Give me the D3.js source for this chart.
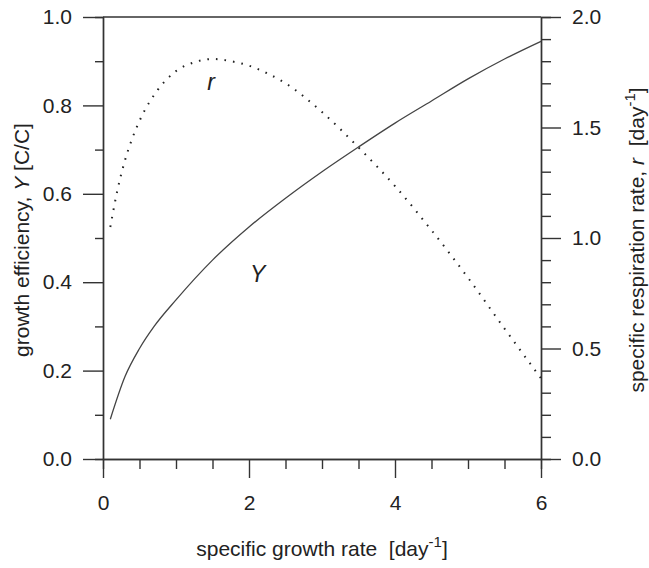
<!DOCTYPE html>
<html>
<head>
<meta charset="utf-8">
<script src="https://cdn.jsdelivr.net/npm/d3@7"></script>
<style>
  body { margin: 0; background: #fff; }
  text { font-family: "Liberation Sans", Arial, sans-serif; fill: #222; }
</style>
</head>
<body>
<svg id="chart"></svg>
<script>
// growth rate (day^-1) and the two curves
var mu_Y = [0.1, 0.3, 0.5, 0.7, 1.0, 1.5, 2.0, 2.5, 3.0, 3.5, 4.0, 4.5, 5.0, 5.5, 6.0];
var Y_vals = [0.09, 0.186, 0.25, 0.30, 0.36, 0.45, 0.525, 0.59, 0.65, 0.706, 0.76, 0.81, 0.86, 0.905, 0.945];

var mu_r = [0.1, 0.2, 0.3, 0.4, 0.5, 0.75, 1.0, 1.25, 1.5, 1.75, 2.0, 2.25, 2.5, 3.0, 3.5, 4.0, 4.5, 5.0, 5.5, 6.0];
var r_vals = [1.05, 1.22, 1.35, 1.45, 1.53, 1.67, 1.755, 1.795, 1.81, 1.80, 1.78, 1.745, 1.70, 1.57, 1.41, 1.235, 1.035, 0.82, 0.59, 0.365];

var x_ticks = [0, 2, 4, 6];
var x_minor = [0.5, 1, 1.5, 2.5, 3, 3.5, 4.5, 5, 5.5];
var y_ticks = [0, 0.2, 0.4, 0.6, 0.8, 1.0];
var y_minor = [0.1, 0.3, 0.5, 0.7, 0.9];
var r_ticks = [0, 0.5, 1.0, 1.5, 2.0];
var r_minor = [0.1, 0.2, 0.3, 0.4, 0.6, 0.7, 0.8, 0.9, 1.1, 1.2, 1.3, 1.4, 1.6, 1.7, 1.8, 1.9];

var svg_width = 649, svg_height = 568;
var margin = { top: 17, right: 108, bottom: 109, left: 103 };
var width = svg_width - margin.left - margin.right;
var height = svg_height - margin.top - margin.bottom;

var svg = d3.select("#chart")
	.attr("width", svg_width)
	.attr("height", svg_height);

var g = svg.append("g")
	.attr("transform", "translate(" + margin.left + "," + margin.top + ")");

var x = d3.scaleLinear().domain([0, 6]).range([0, width]);
var y = d3.scaleLinear().domain([0, 1]).range([height, 0]);
var yr = d3.scaleLinear().domain([0, 2]).range([height, 0]);

var fmt1 = d3.format(".1f");

function styleAxis(sel) {
	sel.selectAll("path, line").attr("stroke", "#333").attr("stroke-width", 1.4);
	sel.selectAll("text").attr("font-size", 21).attr("fill", "#222");
}

// minor ticks first (no labels)
g.append("g").call(d3.axisLeft(y).tickValues(y_minor).tickSize(8).tickFormat(""))
	.call(styleAxis);
g.append("g").attr("transform", "translate(" + width + ",0)")
	.call(d3.axisRight(yr).tickValues(r_minor).tickSize(10).tickFormat(""))
	.call(styleAxis);
g.append("g").attr("transform", "translate(0," + height + ")")
	.call(d3.axisBottom(x).tickValues(x_minor).tickSize(10).tickFormat(""))
	.call(styleAxis);

// major axes
g.append("g")
	.call(d3.axisLeft(y).tickValues(y_ticks).tickSize(20).tickSizeOuter(0).tickPadding(11).tickFormat(fmt1))
	.call(styleAxis);

g.append("g").attr("transform", "translate(" + width + ",0)")
	.call(d3.axisRight(yr).tickValues(r_ticks).tickSize(20).tickSizeOuter(0).tickPadding(11).tickFormat(fmt1))
	.call(styleAxis);

g.append("g").attr("transform", "translate(0," + height + ")")
	.call(d3.axisBottom(x).tickValues(x_ticks).tickSize(19).tickSizeOuter(0).tickPadding(17).tickFormat(d3.format("d")))
	.call(styleAxis);

// top frame line
g.append("line")
	.attr("x1", 0).attr("x2", width)
	.attr("y1", 0).attr("y2", 0)
	.attr("stroke", "#333").attr("stroke-width", 1.4);

// Y curve (left axis)
var lineY = d3.line()
	.curve(d3.curveMonotoneX)
	.x(function (d, i) { return x(mu_Y[i]); })
	.y(function (d) { return y(d); });

g.append("path")
	.datum(Y_vals)
	.attr("fill", "none")
	.attr("stroke", "#444")
	.attr("stroke-width", 1.3)
	.attr("d", lineY);

// r curve (right axis), dotted
var lineR = d3.line()
	.curve(d3.curveMonotoneX)
	.x(function (d, i) { return x(mu_r[i]); })
	.y(function (d) { return yr(d); });

g.append("path")
	.datum(r_vals)
	.attr("fill", "none")
	.attr("stroke", "#222")
	.attr("stroke-width", 2)
	.attr("stroke-dasharray", "1.6,7")
	.attr("d", lineR);

// curve labels
g.append("text")
	.attr("x", x(1.48)).attr("y", y(0.835))
	.attr("font-size", 23).attr("font-style", "italic")
	.attr("text-anchor", "middle")
	.text("r");

g.append("text")
	.attr("x", x(2.12)).attr("y", y(0.4))
	.attr("font-size", 23).attr("font-style", "italic")
	.attr("text-anchor", "middle")
	.text("Y");

// axis titles
var xt = svg.append("text")
	.attr("x", 322).attr("y", 556)
	.attr("font-size", 21)
	.attr("text-anchor", "middle");
xt.append("tspan").text("specific growth rate\u00a0\u00a0[day");
xt.append("tspan").attr("dy", -9).attr("font-size", 15).text("-1");
xt.append("tspan").attr("dy", 9).text("]");

var yt = svg.append("text")
	.attr("transform", "translate(29,240) rotate(-90)")
	.attr("font-size", 21)
	.attr("text-anchor", "middle");
yt.append("tspan").text("growth efficiency, ");
yt.append("tspan").attr("font-style", "italic").text("Y");
yt.append("tspan").text(" [C/C]");

var rt = svg.append("text")
	.attr("transform", "translate(644,240) rotate(-90)")
	.attr("font-size", 21)
	.attr("text-anchor", "middle");
rt.append("tspan").text("specific respiration rate, ");
rt.append("tspan").attr("font-style", "italic").text("r");
rt.append("tspan").text("\u00a0\u00a0[day");
rt.append("tspan").attr("dy", -9).attr("font-size", 15).text("-1");
rt.append("tspan").attr("dy", 9).text("]");
</script>
</body>
</html>
